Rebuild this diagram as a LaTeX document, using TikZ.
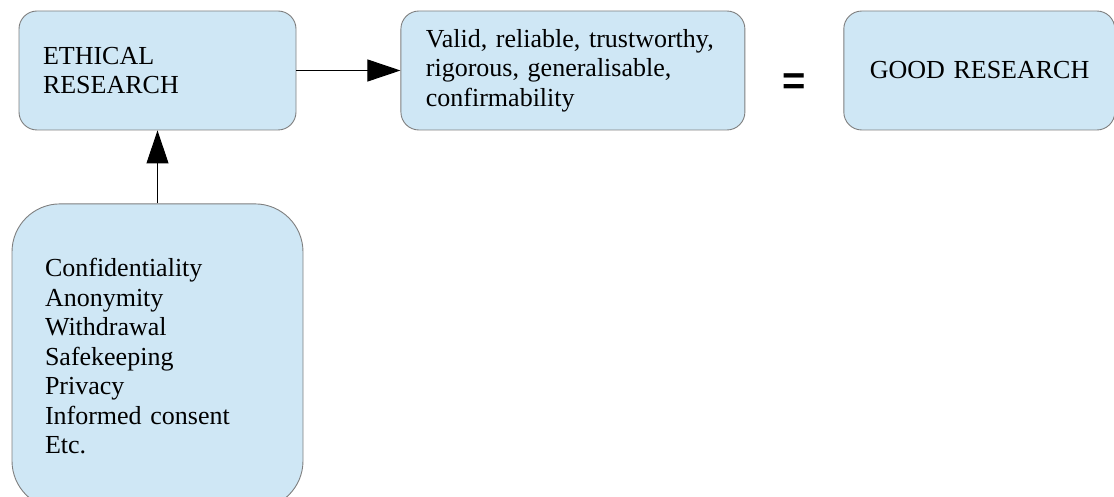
\documentclass[tikz,border=0pt]{standalone}
\usepackage{fontspec}
\setmainfont{Liberation Serif}
\setsansfont{Liberation Sans}
\usetikzlibrary{calc}
\usetikzlibrary{positioning}
\usetikzlibrary{arrows.meta}
\definecolor{paleblue}{HTML}{CFE7F5}
\definecolor{edgegray}{HTML}{7F7F7F}
\tikzset{
	>={Triangle[length=33pt,width=22pt]},
	kasten/.style={
		rectangle, 
		rounded corners=18pt, 
		fill=paleblue,
		draw=edgegray, line width=0.9pt,
		minimum height=119pt, 
		align=left,
		font=\fontsize{26}{29.5}\selectfont},
	line/.style={draw, line width=1pt, ->},
	gleich/.style={font=\fontsize{40}{40}\selectfont\sffamily\bfseries},
}
\begin{document}
\begin{tikzpicture}
	 			[x=1pt, y=-1pt, node distance=104pt]
	 			\useasboundingbox (0,0) rectangle (1114,497);
	 			\node[kasten, inner xsep=24pt, text width=229pt] (ethical) at (157.5,70.5) {ETHICAL\\RESEARCH};
	 			\node[kasten, inner xsep=25pt, text width=294pt, right=104pt of ethical] (criteria) {Valid, reliable, trustworthy,\\rigorous, generalisable,\\confirmability};
	 			\node[kasten, inner xsep=26pt, text width=219pt, right=98pt of criteria] (good) {\mbox{GOOD RESEARCH}};
	 			\node[kasten, rounded corners=48pt, inner xsep=33pt, text width=225pt, minimum height=305pt, below=73pt of ethical] (issues) {Confidentiality\\Anonymity\\Withdrawal\\Safekeeping\\Privacy\\Informed consent\\Etc.};
	 			\node[gleich] (equals) at ($(criteria.east)!0.5!(good.west)+(0,14)$) {=};
	 			\path[line] (issues) -- (ethical);
	 			\path[line] (ethical) -- (criteria);
	 			\end{tikzpicture}
\end{document}
